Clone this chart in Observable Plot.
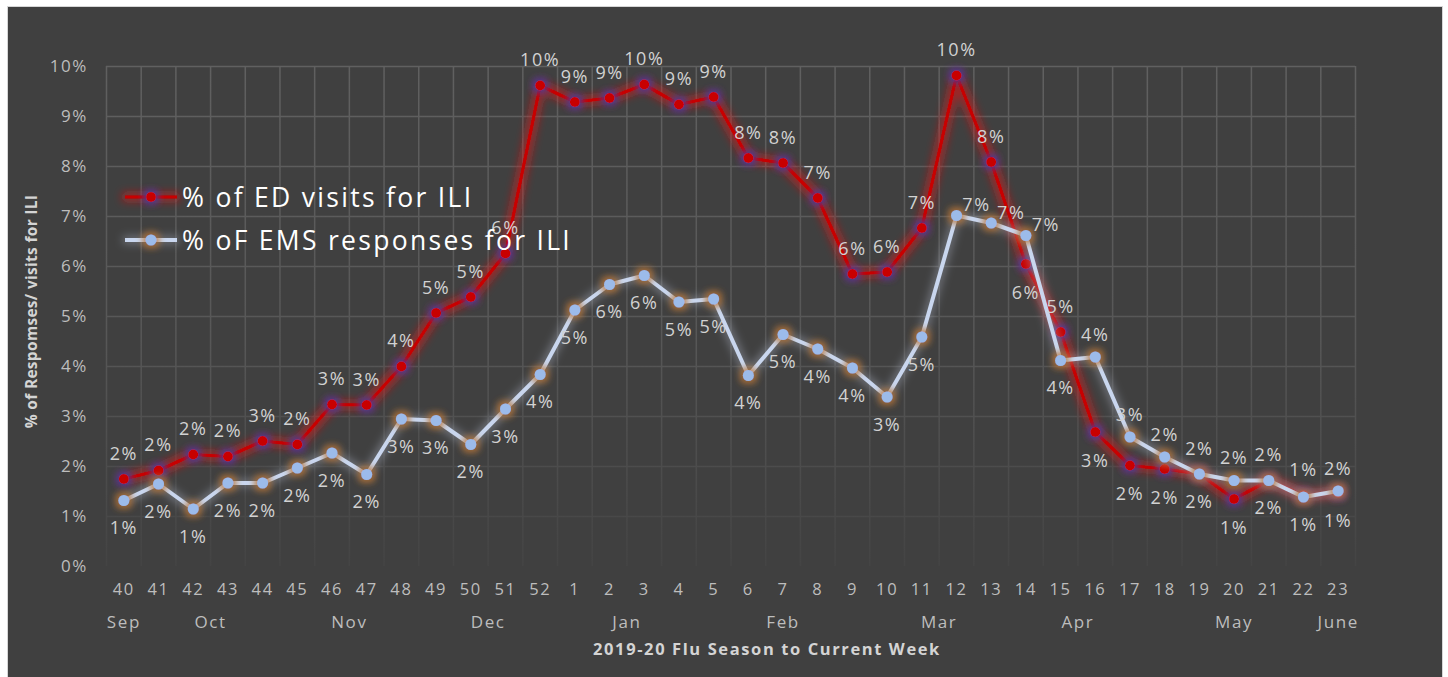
<!DOCTYPE html>
<html>
<head>
<meta charset="utf-8">
<script src="https://cdn.jsdelivr.net/npm/d3@7"></script>
<script src="https://cdn.jsdelivr.net/npm/@observablehq/plot@0.6"></script>
<style>
  html, body { margin: 0; padding: 0; background: #ffffff; overflow: hidden; }
  #wrap { position: relative; width: 1448px; height: 677px; }
  #panel { position: absolute; left: 7px; top: 6px; width: 1436px; height: 680px; box-sizing: border-box;
           background: #404040; border: 1px solid #d6d6d6; }
  #chart { position: absolute; left: 0; top: 0; }
  #chart svg { background: transparent; max-width: none; }
</style>
</head>
<body>
<div id="wrap"><div id="panel"></div><div id="chart"></div></div>
<script>
// ---- data ----
const weeks = ["40","41","42","43","44","45","46","47","48","49","50","51","52",
  "1","2","3","4","5","6","7","8","9","10","11","12","13","14","15","16","17","18","19","20","21","22","23"];
const monthOfWeek = ["Sep","Oct","Oct","Oct","Oct","Nov","Nov","Nov","Nov","Dec","Dec","Dec","Dec",
  "Jan","Jan","Jan","Jan","Feb","Feb","Feb","Feb","Feb","Mar","Mar","Mar","Mar",
  "Apr","Apr","Apr","Apr","May","May","May","May","May","June"];
const edPct = [1.75,1.92,2.24,2.20,2.51,2.44,3.24,3.23,4.00,5.07,5.39,6.26,9.62,
  9.29,9.37,9.64,9.24,9.39,8.17,8.07,7.37,5.85,5.89,6.77,9.82,8.09,6.05,4.69,2.69,2.02,1.95,1.85,1.35,1.72,1.42,1.48];
const emsPct = [1.32,1.65,1.15,1.67,1.67,1.97,2.27,1.84,2.95,2.92,2.44,3.15,3.84,
  5.13,5.64,5.82,5.29,5.35,3.82,4.64,4.35,3.97,3.39,4.59,7.02,6.87,6.62,4.12,4.19,2.59,2.19,1.85,1.72,1.72,1.39,1.51];
const yTicks = [0,1,2,3,4,5,6,7,8,9,10];
const seriesNames = ["% of ED visits for ILI", "% oF EMS responses for ILI"];
const xTitle = "2019-20 Flu Season to Current Week";
const yTitle = "% of Respomses/ visits for ILI";

// ---- derived tables ----
const idx = d3.range(weeks.length);
const ed = idx.map(i => ({i, v: edPct[i], other: emsPct[i]}));
const ems = idx.map(i => ({i, v: emsPct[i], other: edPct[i]}));
const monthPos = Array.from(d3.group(idx, i => monthOfWeek[i]), ([m, ii]) => ({month: m, x: d3.mean(ii)}));
const pct = d => Math.round(d.v) + "%";
const emsRight = new Set(["12","13","14"]);

const RED = "#c80000", BLUE_LINE = "#c9d6ee", BLUE_DOT = "#9cbbea", LBL = "#d2d2d2";
const FONT = "'Open Sans', sans-serif";

const lblOpts = {x: "i", y: "v", text: pct, fill: LBL, fontSize: 18, fontFamily: FONT};

const chart = Plot.plot({
  width: 1448, height: 677,
  marginLeft: 106, marginRight: 93, marginTop: 66, marginBottom: 111,
  style: {background: "transparent", fontFamily: FONT, letterSpacing: "1.6px"},
  x: {domain: [-0.5, weeks.length - 0.5], axis: null},
  y: {domain: [0, 10], axis: null},
  marks: [
    Plot.ruleY(yTicks.filter(d => d > 0), {stroke: "url(#gridFade)", strokeWidth: 1.5}),
    Plot.ruleX(d3.range(weeks.length + 1).map(i => i - 0.5), {stroke: "url(#gridFade)", strokeWidth: 1.5}),
    Plot.axisY(yTicks, {tickSize: 0, tickPadding: 18.5, tickFormat: d => d + "%", fontSize: 17, color: "#bdbdbd", label: null}),
    Plot.axisX(idx, {tickSize: 0, tickPadding: 17, tickFormat: i => weeks[i], fontSize: 16.5, color: "#bdbdbd", label: null}),
    Plot.text(monthPos, {x: "x", text: "month", frameAnchor: "bottom", dy: 61, fontSize: 17, fill: "#bdbdbd"}),
    Plot.text([xTitle], {frameAnchor: "bottom", dy: 88, dx: 36, fontSize: 16.5, fontWeight: "bold", fill: "#d4d4d4"}),
    Plot.text([yTitle], {frameAnchor: "left", textAnchor: "middle", dx: -74, dy: -5, rotate: -90, fontSize: 15.5, fontWeight: "bold", fill: "#d4d4d4", ariaDescription: "ytitle"}),
    // ED series
    Plot.line(ed, {x: "i", y: "v", stroke: RED, strokeWidth: 3.2, ariaDescription: "ed-line"}),
    Plot.dot(ed, {x: "i", y: "v", r: 5, fill: RED, stroke: null, ariaDescription: "ed-dot"}),
    // EMS series
    Plot.line(ems, {x: "i", y: "v", stroke: BLUE_LINE, strokeWidth: 4, ariaDescription: "ems-line"}),
    Plot.dot(ems, {x: "i", y: "v", r: 5.5, fill: BLUE_DOT, stroke: null, ariaDescription: "ems-dot"}),
    // labels
    Plot.text(ed, {...lblOpts, filter: d => d.v >= d.other, dy: -25}),
    Plot.text(ed, {...lblOpts, filter: d => d.v < d.other, dy: 29}),
    Plot.text(ems, {...lblOpts, filter: d => emsRight.has(weeks[d.i]), dx: 20, dy: -10}),
    Plot.text(ems, {...lblOpts, filter: d => !emsRight.has(weeks[d.i]) && d.v > d.other, dy: -22}),
    Plot.text(ems, {...lblOpts, filter: d => !emsRight.has(weeks[d.i]) && d.v <= d.other, dy: 28})
  ]
});

document.getElementById("chart").appendChild(chart);

// ---- defs: grid gradient and glow filters ----
const svg = d3.select(chart);
svg.select("[aria-description=ytitle]").style("letter-spacing", "0.3px");
const defs = svg.insert("defs", ":first-child");
const gf = defs.append("linearGradient").attr("id", "gridFade").attr("gradientUnits", "userSpaceOnUse")
  .attr("x1", 0).attr("y1", 66).attr("x2", 0).attr("y2", 566);
gf.append("stop").attr("offset", "0%").attr("stop-color", "#606060");
gf.append("stop").attr("offset", "55%").attr("stop-color", "#575757");
gf.append("stop").attr("offset", "100%").attr("stop-color", "#444444");

function glow(id, color, dilate, blur, opacity) {
  const f = defs.append("filter").attr("id", id).attr("filterUnits", "userSpaceOnUse")
    .attr("x", 0).attr("y", 0).attr("width", 1448).attr("height", 677);
  f.append("feMorphology").attr("in", "SourceAlpha").attr("operator", "dilate").attr("radius", dilate).attr("result", "d");
  f.append("feGaussianBlur").attr("in", "d").attr("stdDeviation", blur).attr("result", "b");
  f.append("feFlood").attr("flood-color", color).attr("flood-opacity", opacity).attr("result", "c");
  f.append("feComposite").attr("in", "c").attr("in2", "b").attr("operator", "in").attr("result", "g");
  const m = f.append("feMerge");
  m.append("feMergeNode").attr("in", "g");
  m.append("feMergeNode").attr("in", "SourceGraphic");
}
glow("edLineGlow", "#e01818", 2.5, 4, 0.6);
glow("edDotGlow", "#4a3a9a", 2.5, 3, 0.85);
glow("emsLineGlow", "#a8b0c0", 1.5, 4, 0.45);
glow("emsDotGlow", "#b8702c", 2.5, 3, 0.75);

svg.select("[aria-description=ed-line]").attr("filter", "url(#edLineGlow)");
svg.select("[aria-description=ed-dot]").attr("filter", "url(#edDotGlow)");
svg.select("[aria-description=ems-line]").attr("filter", "url(#emsLineGlow)");
svg.select("[aria-description=ems-dot]").attr("filter", "url(#emsDotGlow)");

// ---- legend (inside plot, top-left) ----
const legendItems = [
  {name: seriesNames[0], line: RED, dot: RED, lw: 3.2, r: 5, lf: "edLineGlow", df: "edDotGlow"},
  {name: seriesNames[1], line: BLUE_LINE, dot: BLUE_DOT, lw: 4, r: 5.5, lf: "emsLineGlow", df: "emsDotGlow"}
];
const lg = svg.append("g").attr("class", "legend").attr("text-anchor", "start");
legendItems.forEach((it, k) => {
  const y = 197 + k * 43;
  lg.append("line").attr("x1", 125).attr("x2", 177).attr("y1", y).attr("y2", y)
    .attr("stroke", it.line).attr("stroke-width", it.lw).attr("filter", `url(#${it.lf})`);
  lg.append("circle").attr("cx", 151).attr("cy", y).attr("r", it.r).attr("fill", it.dot).attr("filter", `url(#${it.df})`);
  lg.append("text").attr("x", 182).attr("y", y).attr("dy", "0.36em").attr("text-anchor", "start")
    .attr("fill", "#ffffff").attr("font-size", 26.5).attr("font-family", FONT)
    .style("letter-spacing", "2.3px").text(it.name);
});
</script>
</body>
</html>
